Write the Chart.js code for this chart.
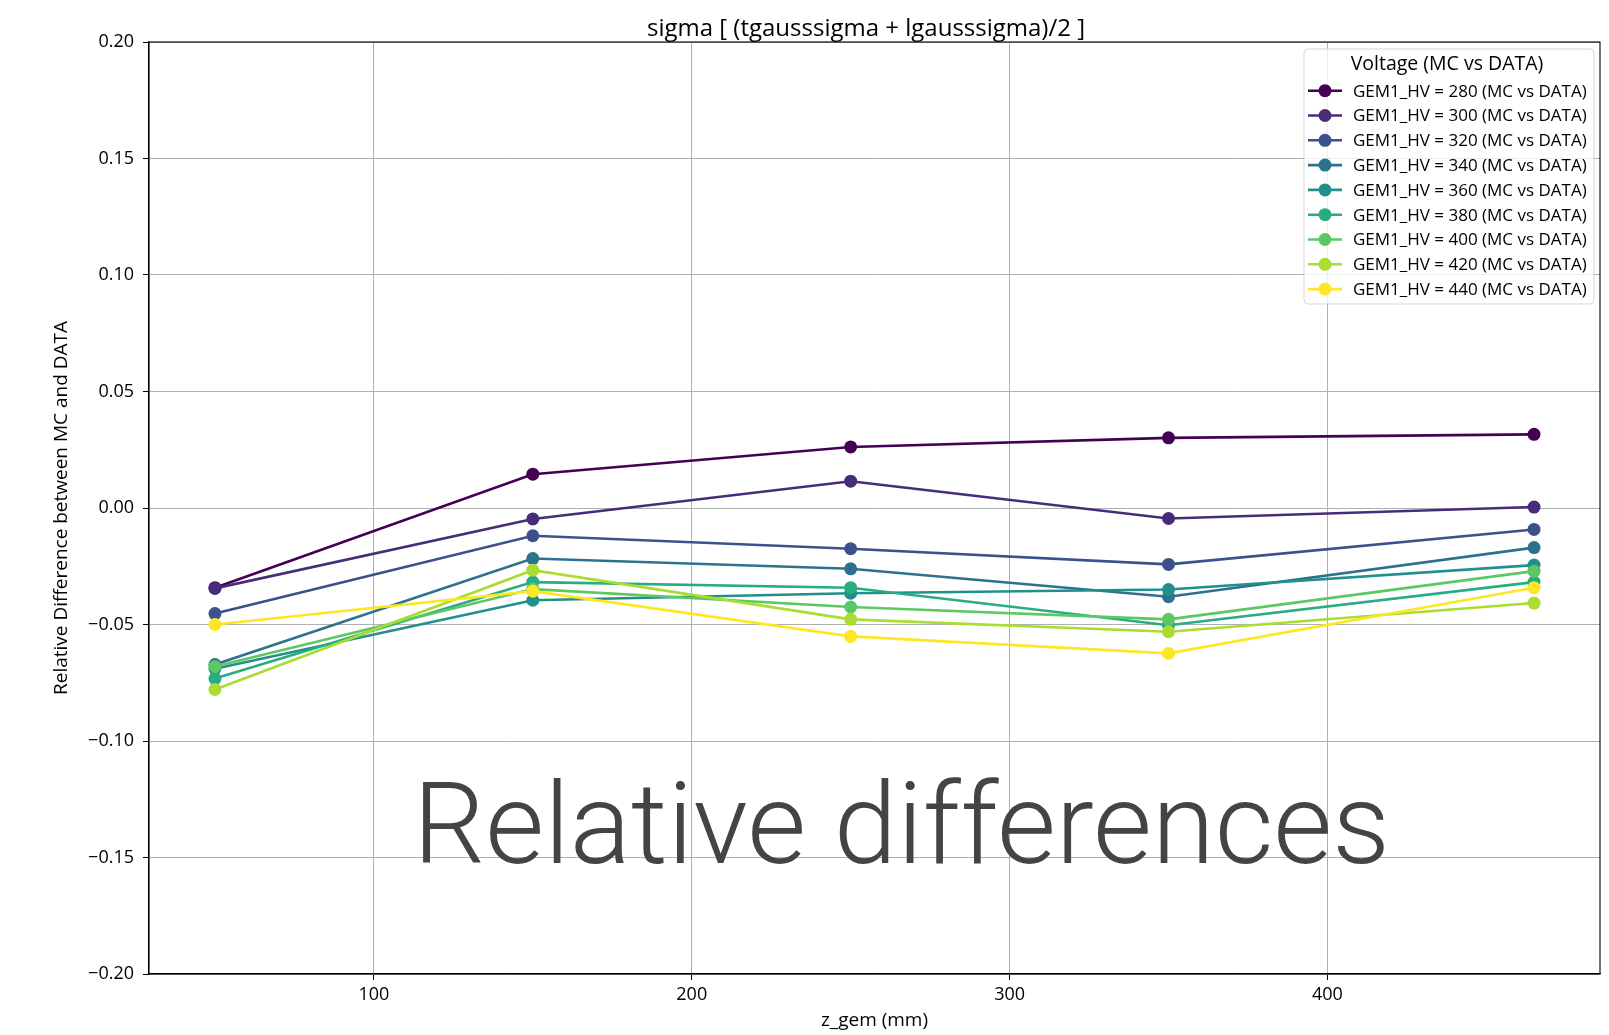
<!DOCTYPE html>
<html>
<head>
<meta charset="utf-8">
<script src="https://cdn.jsdelivr.net/npm/chart.js@4.4.1/dist/chart.umd.min.js"></script>
<style>
  html, body { margin: 0; padding: 0; background: #fff; }
  #wrap { width: 1609px; height: 1035px; }
</style>
</head>
<body>
<div id="wrap"><canvas id="chart" width="1609" height="1035"></canvas></div>
<script>
// ---- data ----
const zGem = [50, 150, 250, 350, 465];
const hvLabels = ['280', '300', '320', '340', '360', '380', '400', '420', '440'];
const hv280 = [-0.0342, 0.0145, 0.0262, 0.0301, 0.0316];
const hv300 = [-0.0345, -0.0047, 0.0115, -0.0045, 0.0004];
const hv320 = [-0.0453, -0.0119, -0.0175, -0.0242, -0.0092];
const hv340 = [-0.0672, -0.0217, -0.0261, -0.0381, -0.0170];
const hv360 = [-0.0690, -0.0396, -0.0366, -0.0350, -0.0245];
const hv380 = [-0.0732, -0.0318, -0.0342, -0.0503, -0.0318];
const hv400 = [-0.0680, -0.0348, -0.0425, -0.0478, -0.0271];
const hv420 = [-0.0779, -0.0267, -0.0478, -0.0531, -0.0408];
const hv440 = [-0.0500, -0.0357, -0.0551, -0.0624, -0.0342];
const seriesValues = [hv280, hv300, hv320, hv340, hv360, hv380, hv400, hv420, hv440];
const viridis = ['#440154', '#472c7a', '#3b518b', '#2c718e', '#21908d', '#27ad81', '#5cc863', '#aadc32', '#fde725'];

const xTicks = [100, 200, 300, 400];
const yTicks = [-0.20, -0.15, -0.10, -0.05, 0.00, 0.05, 0.10, 0.15, 0.20];

const TITLE = 'sigma [ (tgausssigma + lgausssigma)/2 ]';
const LEGEND_TITLE = 'Voltage (MC vs DATA)';
const OVERLAY = 'Relative differences';

const FONT = '"Open Sans", "Noto Sans", sans-serif';

const datasets = seriesValues.map((vals, i) => ({
  label: `GEM1_HV = ${hvLabels[i]} (MC vs DATA)`,
  data: zGem.map((x, j) => ({ x: x, y: vals[j] })),
  borderColor: viridis[i],
  backgroundColor: viridis[i],
  borderWidth: 2.6,
  pointRadius: 6.5,
  pointHoverRadius: 6.5,
  pointBorderWidth: 0,
  tension: 0,
  order: seriesValues.length - i, // later series on top, like matplotlib
}));

// title + frame + overlay text + legend box
const decor = {
  id: 'decor',
  afterDraw(chart) {
    const { ctx, chartArea: a } = chart;
    ctx.save();

    // top / right spines
    ctx.strokeStyle = '#000';
    ctx.lineWidth = 1.1;
    ctx.strokeRect(a.left, a.top, a.right - a.left, a.bottom - a.top);

    // title
    ctx.fillStyle = '#000';
    ctx.font = '24px ' + FONT;
    ctx.textAlign = 'center';
    ctx.textBaseline = 'alphabetic';
    ctx.fillText(TITLE, 866, 36);

    // big overlay text
    ctx.font = '300 114px Roboto, "Liberation Sans", sans-serif';
    ctx.fillStyle = '#444444';
    ctx.textAlign = 'left';
    const w = ctx.measureText(OVERLAY).width;
    const targetW = 977;
    ctx.translate(413, 863);
    ctx.scale(targetW / w, 1);
    ctx.fillText(OVERLAY, 0, 0);
    ctx.restore();

    // legend
    ctx.save();
    const lx = 1304, ly = 49, lw = 290, lh = 255;
    ctx.fillStyle = 'rgba(255,255,255,0.8)';
    ctx.strokeStyle = 'rgba(204,204,204,0.8)';
    ctx.lineWidth = 1;
    ctx.beginPath();
    ctx.roundRect(lx, ly, lw, lh, 4);
    ctx.fill();
    ctx.stroke();

    ctx.fillStyle = '#000';
    ctx.font = '19.5px ' + FONT;
    ctx.textAlign = 'center';
    ctx.textBaseline = 'middle';
    ctx.fillText(LEGEND_TITLE, 1447, 64);

    ctx.font = '17px ' + FONT;
    ctx.textAlign = 'left';
    chart.data.datasets.forEach((ds, i) => {
      const y = 90.7 + i * 24.8;
      ctx.strokeStyle = ds.borderColor;
      ctx.lineWidth = 2.6;
      ctx.beginPath();
      ctx.moveTo(1308, y);
      ctx.lineTo(1342, y);
      ctx.stroke();
      ctx.fillStyle = ds.backgroundColor;
      ctx.beginPath();
      ctx.arc(1325, y, 6.5, 0, Math.PI * 2);
      ctx.fill();
      ctx.fillStyle = '#000';
      ctx.fillText(ds.label, 1353, y + 1);
    });
    ctx.restore();
  }
};

new Chart(document.getElementById('chart'), {
  type: 'line',
  data: { datasets: datasets },
  options: {
    responsive: false,
    devicePixelRatio: 1,
    animation: false,
    layout: { padding: { top: 42, right: 9, left: 0, bottom: 0 } },
    plugins: {
      legend: { display: false },
      tooltip: { enabled: false },
    },
    scales: {
      x: {
        type: 'linear',
        min: 29.25,
        max: 485.75,
        afterBuildTicks: (s) => { s.ticks = xTicks.map(v => ({ value: v })); },
        afterFit: (s) => { s.height = 61; },
        grid: { color: '#b0b0b0', lineWidth: 1, tickColor: '#000', tickLength: 6 },
        border: { color: '#000', width: 1.1 },
        ticks: {
          color: '#000',
          padding: 4,
          maxRotation: 0,
          font: { family: FONT, size: 18 },
          callback: (v) => String(v),
        },
        title: {
          display: true,
          text: 'z_gem (mm)',
          color: '#000',
          font: { family: FONT, size: 19 },
          padding: { top: 0, bottom: 3 },
        },
      },
      y: {
        type: 'linear',
        min: -0.2,
        max: 0.2,
        afterBuildTicks: (s) => { s.ticks = yTicks.map(v => ({ value: v })); },
        afterFit: (s) => { s.width = 149; },
        grid: { color: '#b0b0b0', lineWidth: 1, tickColor: '#000', tickLength: 6 },
        border: { color: '#000', width: 1.1 },
        ticks: {
          color: '#000',
          padding: 9,
          font: { family: FONT, size: 18 },
          callback: (v) => {
            const s = Math.abs(v).toFixed(2);
            return v < -1e-9 ? '\u2212' + s : s;
          },
        },
        title: {
          display: true,
          text: 'Relative Difference between MC and DATA',
          color: '#000',
          font: { family: FONT, size: 19 },
          padding: { top: 50, bottom: 0 },
        },
      },
    },
  },
  plugins: [decor],
});
</script>
</body>
</html>
